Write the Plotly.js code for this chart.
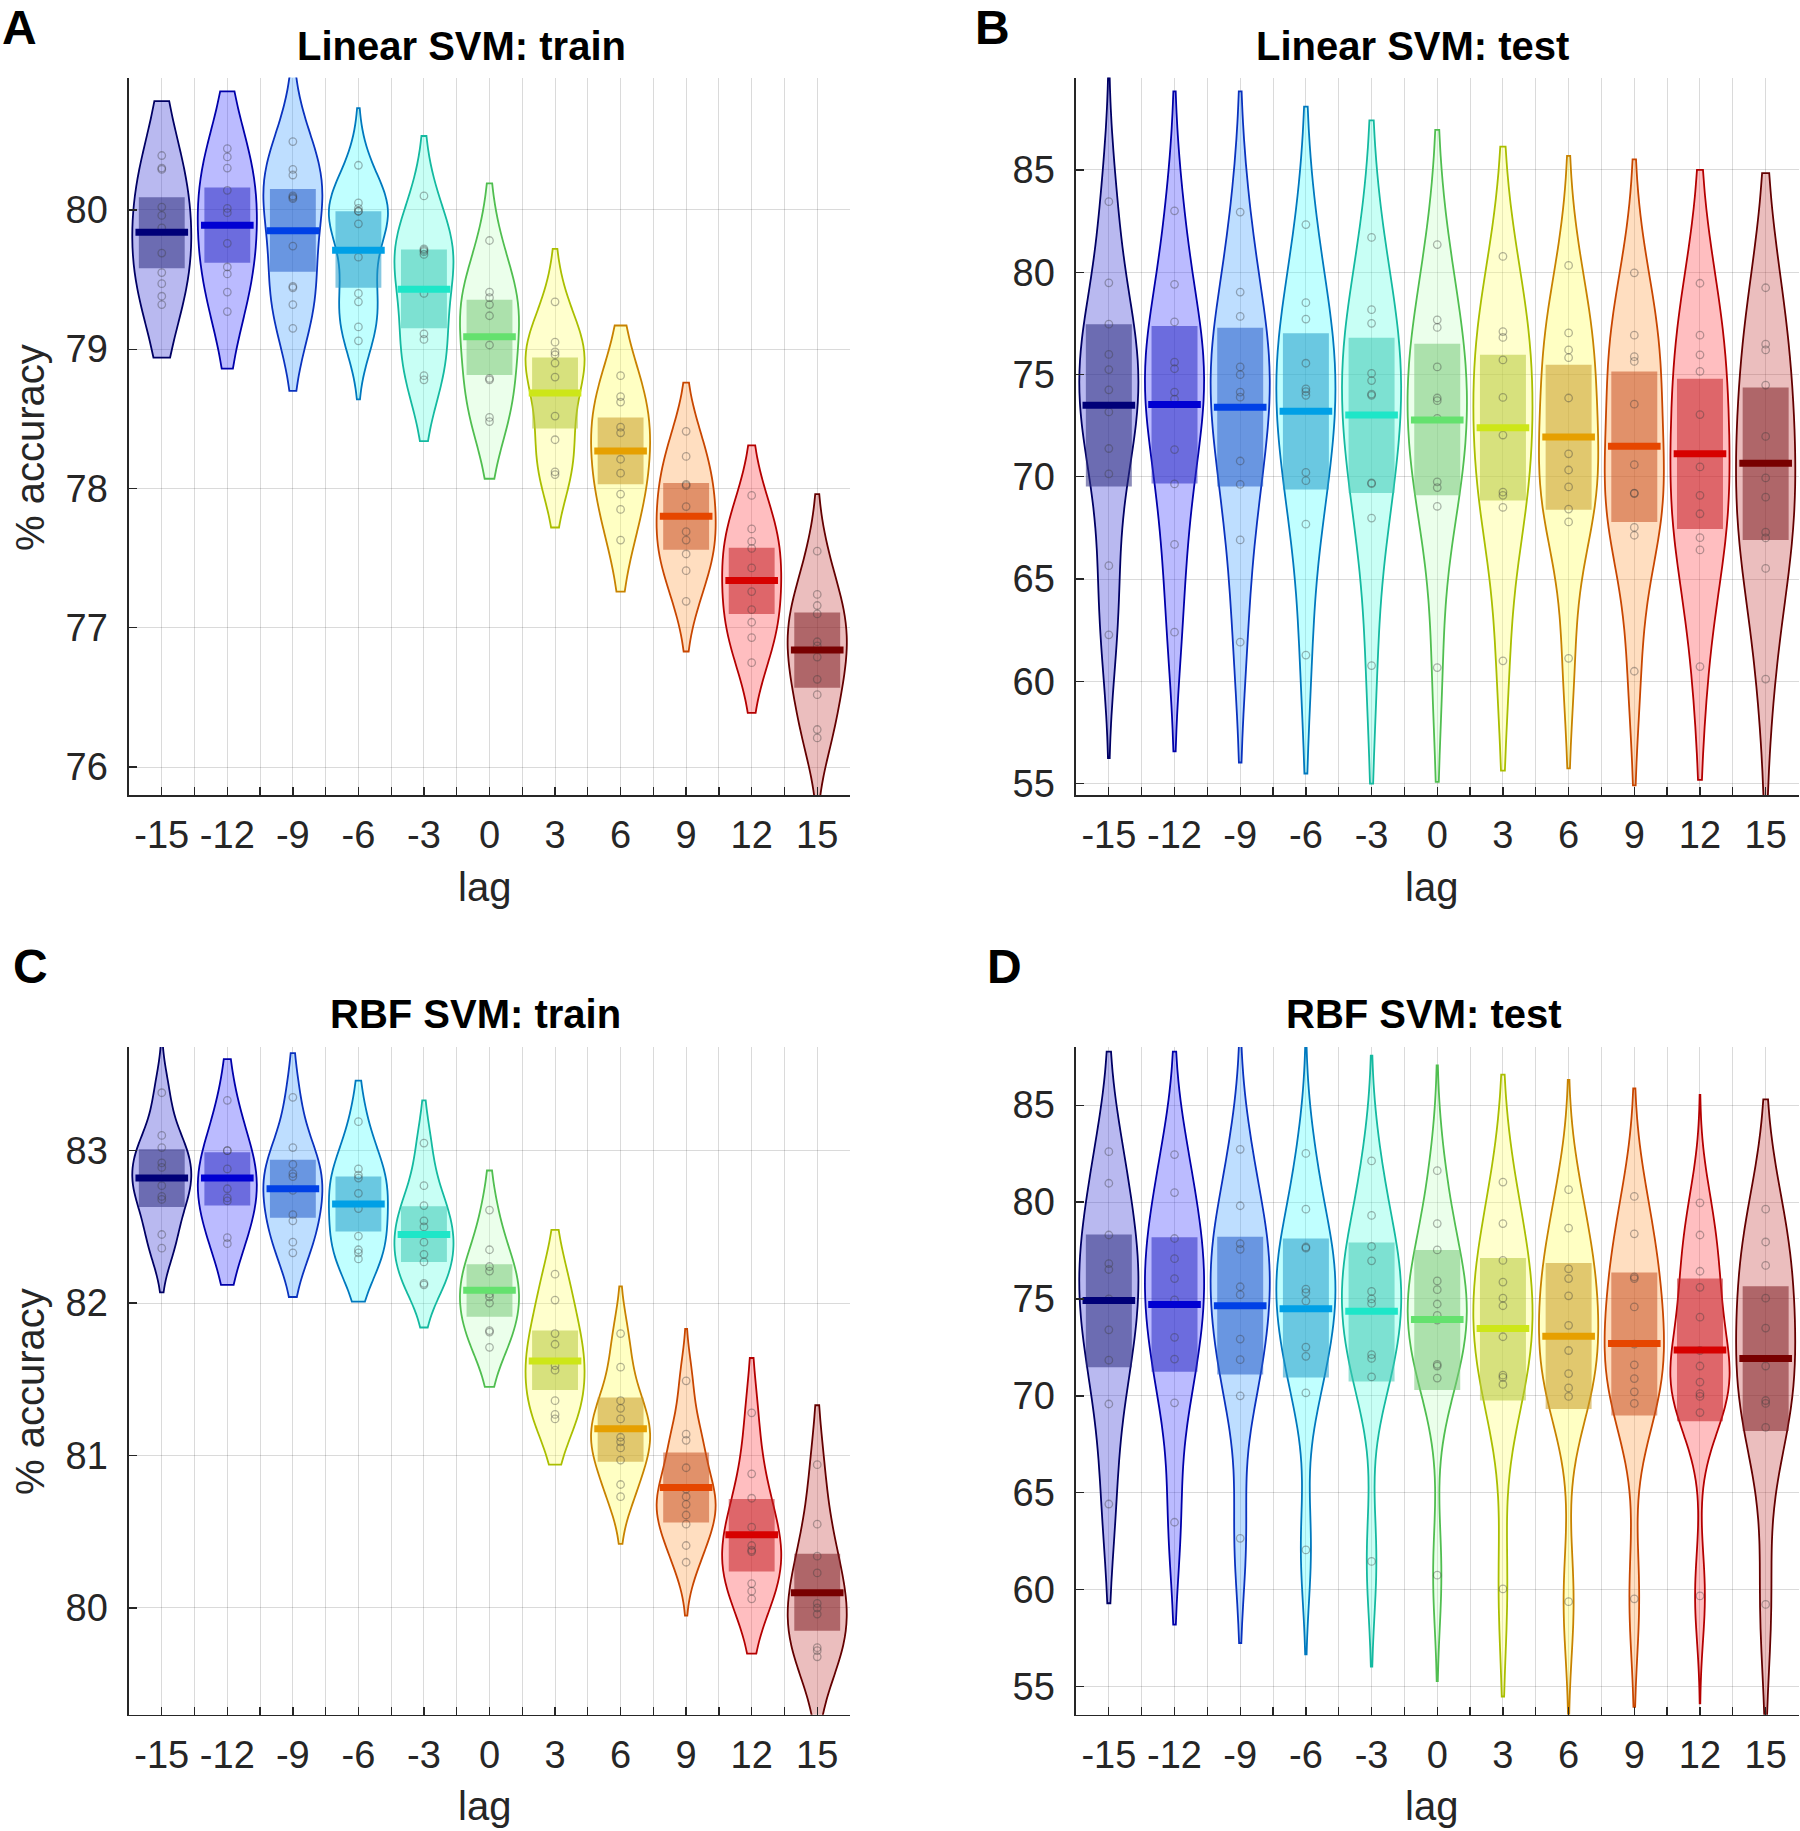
<!DOCTYPE html>
<html>
<head>
<meta charset="utf-8">
<script src="https://cdn.plot.ly/plotly-3.0.1.min.js"></script>
<style>
html,body{margin:0;padding:0;background:#ffffff;}
#chart{width:1800px;height:1831px;}
</style>
</head>
<body>
<div id="chart"></div>
<script>
// ---------------- DATA ----------------
const lags = [-15, -12, -9, -6, -3, 0, 3, 6, 9, 12, 15];
const tickLabels = ['-15', '-12', '-9', '-6', '-3', '0', '3', '6', '9', '12', '15'];

// Panel A: Linear SVM, train (% accuracy per subject, one list per lag)
const linTrainPts = [
  [80.39, 80.30, 80.29, 80.02, 79.96, 79.87, 79.69, 79.55, 79.47, 79.38, 79.32],
  [80.44, 80.38, 80.30, 80.14, 80.01, 79.98, 79.76, 79.59, 79.54, 79.41, 79.27],
  [80.49, 80.29, 80.25, 80.10, 80.09, 80.08, 79.74, 79.45, 79.44, 79.32, 79.15],
  [80.32, 80.05, 80.01, 79.99, 79.99, 79.90, 79.66, 79.40, 79.34, 79.16, 79.06],
  [80.10, 79.72, 79.71, 79.70, 79.68, 79.40, 79.11, 79.07, 78.81, 78.78],
  [79.78, 79.41, 79.37, 79.32, 79.24, 79.03, 78.79, 78.78, 78.51, 78.48],
  [79.34, 79.05, 78.98, 78.96, 78.90, 78.80, 78.52, 78.35, 78.12, 78.10],
  [78.81, 78.66, 78.62, 78.44, 78.40, 78.21, 78.11, 77.96, 77.85, 77.63],
  [78.41, 78.23, 78.03, 78.02, 77.87, 77.69, 77.63, 77.53, 77.41, 77.19],
  [77.95, 77.71, 77.62, 77.57, 77.43, 77.26, 77.13, 77.04, 76.93, 76.75],
  [77.55, 77.24, 77.16, 77.10, 76.90, 76.87, 76.79, 76.63, 76.52, 76.27, 76.21]
];
const linTrainMean = [79.84, 79.89, 79.85, 79.71, 79.43, 79.09, 78.685, 78.27, 77.80, 77.34, 76.84];
const linTrainLo   = [79.58, 79.62, 79.555, 79.44, 79.15, 78.815, 78.43, 78.03, 77.56, 77.10, 76.57];
const linTrainHi   = [80.09, 80.16, 80.15, 79.99, 79.715, 79.355, 78.94, 78.51, 78.04, 77.575, 77.11];
const linTrainSpanLo = [78.94, 78.86, 78.70, 78.64, 78.34, 78.07, 77.72, 77.26, 76.83, 76.39, 75.65];
const linTrainSpanHi = [80.78, 80.85, 80.97, 80.73, 80.53, 80.19, 79.72, 79.17, 78.76, 78.31, 77.96];

// Panel B: Linear SVM, test
const linTestPts = [
  [83.45, 79.48, 77.46, 75.98, 75.24, 74.25, 73.17, 71.38, 70.14, 65.65, 62.27],
  [83.00, 79.41, 77.57, 75.60, 75.28, 74.14, 73.80, 71.33, 69.65, 66.69, 62.40],
  [82.94, 79.03, 77.84, 75.37, 74.99, 74.14, 73.89, 70.77, 69.63, 66.91, 61.91],
  [82.33, 78.51, 77.71, 75.55, 74.30, 74.16, 73.98, 70.21, 69.81, 67.68, 61.28],
  [81.70, 78.17, 77.50, 75.05, 74.70, 74.04, 73.98, 69.70, 69.66, 67.98, 60.77],
  [81.35, 77.67, 77.30, 75.37, 73.85, 73.72, 72.85, 69.75, 69.47, 68.55, 60.67],
  [80.77, 77.10, 76.81, 75.71, 73.88, 72.04, 69.25, 69.09, 68.50, 61.00],
  [80.33, 77.03, 76.20, 75.82, 73.85, 71.12, 70.33, 69.50, 68.42, 67.79, 61.12],
  [79.97, 76.92, 75.87, 75.64, 73.55, 70.59, 69.20, 69.18, 67.52, 67.14, 60.49],
  [79.46, 76.92, 75.96, 75.15, 73.04, 70.48, 69.09, 68.19, 67.02, 66.42, 60.72],
  [79.24, 76.48, 76.20, 74.48, 71.97, 69.94, 69.00, 67.29, 67.01, 65.52, 60.11]
];
const linTestMean = [73.49, 73.53, 73.40, 73.20, 73.02, 72.77, 72.39, 71.94, 71.49, 71.13, 70.66];
const linTestLo   = [69.52, 69.67, 69.52, 69.38, 69.20, 69.09, 68.84, 68.39, 67.79, 67.45, 66.91];
const linTestHi   = [77.46, 77.37, 77.28, 77.01, 76.79, 76.50, 75.96, 75.48, 75.15, 74.79, 74.36];
const linTestSpanLo = [56.25, 56.57, 56.03, 55.49, 55.00, 55.08, 55.63, 55.74, 54.91, 55.18, 54.20];
const linTestSpanHi = [90.00, 88.84, 88.84, 88.10, 87.42, 86.96, 86.14, 85.69, 85.52, 85.00, 84.84];

// Panel C: RBF SVM, train
const rbfTrainPts = [
  [83.38, 83.10, 83.02, 82.92, 82.89, 82.77, 82.70, 82.68, 82.45, 82.36],
  [83.33, 83.00, 83.00, 82.88, 82.75, 82.69, 82.67, 82.43, 82.39],
  [83.35, 83.02, 82.91, 82.85, 82.83, 82.74, 82.58, 82.54, 82.40, 82.33],
  [83.19, 82.88, 82.84, 82.82, 82.72, 82.62, 82.44, 82.35, 82.33, 82.29],
  [83.05, 82.77, 82.64, 82.54, 82.50, 82.40, 82.32, 82.27, 82.13, 82.12],
  [82.61, 82.35, 82.24, 82.21, 82.06, 82.04, 82.00, 81.82, 81.81, 81.71],
  [82.19, 82.02, 81.80, 81.73, 81.59, 81.56, 81.36, 81.27, 81.24],
  [81.80, 81.58, 81.36, 81.31, 81.24, 81.12, 81.09, 81.05, 80.97, 80.81, 80.73],
  [81.49, 81.14, 81.10, 80.92, 80.78, 80.73, 80.68, 80.61, 80.55, 80.41, 80.30],
  [81.28, 80.88, 80.72, 80.53, 80.41, 80.38, 80.37, 80.16, 80.11, 80.06],
  [80.94, 80.55, 80.34, 80.23, 80.03, 80.00, 79.96, 79.74, 79.72, 79.68]
];
const rbfTrainMean = [82.82, 82.82, 82.75, 82.65, 82.45, 82.085, 81.62, 81.175, 80.79, 80.48, 80.10];
const rbfTrainLo   = [82.63, 82.64, 82.56, 82.47, 82.27, 81.91, 81.43, 80.96, 80.56, 80.24, 79.85];
const rbfTrainHi   = [83.01, 82.99, 82.94, 82.83, 82.635, 82.255, 81.82, 81.38, 81.02, 80.715, 80.355];
const rbfTrainSpanLo = [82.07, 82.12, 82.04, 82.01, 81.84, 81.45, 80.94, 80.42, 79.95, 79.70, 79.20];
const rbfTrainSpanHi = [83.70, 83.60, 83.64, 83.46, 83.33, 82.87, 82.48, 82.11, 81.83, 81.64, 81.33];

// Panel D: RBF SVM, test
const rbfTestPts = [
  [82.60, 80.97, 78.30, 76.82, 76.52, 75.00, 73.41, 71.84, 69.58, 64.42],
  [82.45, 80.49, 78.12, 77.08, 76.05, 74.95, 73.02, 71.90, 69.64, 63.48],
  [82.72, 79.81, 77.86, 77.56, 75.63, 75.22, 72.93, 71.87, 70.00, 62.65],
  [82.51, 79.63, 77.68, 77.62, 75.51, 75.33, 74.89, 72.52, 72.04, 70.15, 62.05],
  [82.12, 79.31, 77.71, 76.97, 75.39, 75.00, 74.77, 72.13, 71.93, 70.98, 61.46],
  [81.62, 78.89, 77.53, 75.93, 75.48, 74.74, 74.15, 73.91, 71.63, 71.54, 70.92, 60.75],
  [81.03, 78.89, 76.99, 75.87, 75.04, 74.65, 73.05, 71.07, 70.95, 70.59, 60.04],
  [80.64, 78.66, 76.55, 76.05, 75.16, 73.64, 72.34, 71.15, 70.41, 69.97, 59.38],
  [80.29, 78.36, 76.14, 76.05, 74.59, 72.67, 71.60, 70.89, 70.21, 69.61, 59.53],
  [79.96, 78.30, 76.43, 75.60, 74.06, 72.34, 71.54, 70.71, 70.12, 69.97, 69.14, 59.68],
  [79.63, 77.94, 76.73, 75.04, 73.50, 71.54, 69.76, 69.61, 68.37, 59.24]
];
const rbfTestMean = [74.92, 74.71, 74.65, 74.50, 74.36, 73.94, 73.47, 73.08, 72.70, 72.37, 71.93];
const rbfTestLo   = [71.48, 71.24, 71.10, 70.95, 70.74, 70.30, 69.76, 69.32, 68.99, 68.69, 68.19];
const rbfTestHi   = [78.33, 78.18, 78.21, 78.12, 77.91, 77.53, 77.11, 76.85, 76.37, 76.05, 75.66];
const rbfTestSpanLo = [59.30, 58.20, 57.25, 56.66, 56.03, 55.29, 54.49, 53.60, 53.96, 54.14, 53.40];
const rbfTestSpanHi = [87.76, 87.76, 88.10, 88.05, 87.55, 87.05, 86.57, 86.30, 85.86, 85.53, 85.30];

// ---------------- STYLE ----------------
const W = 1800, H = 1831;
const FONT = '"Liberation Sans", Arial, Helvetica, sans-serif';
const INK = '#262626';
const GRID = 'rgba(38,38,38,0.17)';

const outlineRGB = [[0,0,100],[0,0,170],[10,50,190],[0,120,190],[20,185,160],[80,190,80],[170,190,0],[200,130,0],[200,70,0],[180,0,0],[100,0,0]];
const meanRGB    = [[0,0,120],[0,0,210],[0,64,230],[0,160,230],[30,230,200],[100,225,110],[205,230,25],[230,160,0],[230,70,0],[215,0,0],[120,0,0]];
const violinLook = [[185,185,240],[187,187,255],[190,222,255],[192,255,255],[200,255,245],[235,255,235],[255,255,205],[255,255,195],[255,222,192],[255,190,192],[235,190,190]];
const boxLook    = [[108,108,178],[108,108,222],[105,150,225],[105,200,225],[125,225,210],[172,225,172],[215,225,125],[225,200,110],[225,145,105],[222,102,105],[175,102,105]];
const VA = 0.35, BA = 0.55;

const clamp = v => Math.max(0, Math.min(255, Math.round(v)));
const rgb = c => 'rgb(' + c.join(',') + ')';
function rgbaOver(target, under, a) {
  const base = target.map((t, i) => clamp((t - (1 - a) * under[i]) / a));
  return 'rgba(' + base.join(',') + ',' + a + ')';
}
const WHITE = [255,255,255];

// kernel bandwidth as in MATLAB ksdensity (MAD-based normal reference rule)
function median(a) {
  const s = a.slice().sort((p, q) => p - q), m = s.length >> 1;
  return s.length % 2 ? s[m] : (s[m - 1] + s[m]) / 2;
}
function ksBandwidth(a) {
  const med = median(a);
  const mad = median(a.map(v => Math.abs(v - med)));
  return mad / 0.6745 * Math.pow(4 / (3 * a.length), 0.2);
}

const panels = [
  {pts: linTrainPts, mean: linTrainMean, lo: linTrainLo, hi: linTrainHi, sLo: linTrainSpanLo, sHi: linTrainSpanHi, xa: 'x',  ya: 'y'},
  {pts: linTestPts,  mean: linTestMean,  lo: linTestLo,  hi: linTestHi,  sLo: linTestSpanLo,  sHi: linTestSpanHi,  xa: 'x2', ya: 'y2'},
  {pts: rbfTrainPts, mean: rbfTrainMean, lo: rbfTrainLo, hi: rbfTrainHi, sLo: rbfTrainSpanLo, sHi: rbfTrainSpanHi, xa: 'x3', ya: 'y3'},
  {pts: rbfTestPts,  mean: rbfTestMean,  lo: rbfTestLo,  hi: rbfTestHi,  sLo: rbfTestSpanLo,  sHi: rbfTestSpanHi,  xa: 'x4', ya: 'y4'}
];

const traces = [];
// violins
panels.forEach(p => {
  lags.forEach((lag, i) => {
    traces.push({
      type: 'violin', x0: lag, y: p.pts[i], xaxis: p.xa, yaxis: p.ya,
      orientation: 'v', width: 2.7, scalemode: 'width',
      bandwidth: ksBandwidth(p.pts[i]),
      spanmode: 'manual', span: [p.sLo[i], p.sHi[i]],
      points: false, box: {visible: false}, meanline: {visible: false},
      fillcolor: rgbaOver(violinLook[i], WHITE, VA),
      line: {color: rgb(outlineRGB[i]), width: 1.8},
      hoverinfo: 'skip', showlegend: false, name: tickLabels[i]
    });
  });
});
// confidence boxes
panels.forEach(p => {
  lags.forEach((lag, i) => {
    traces.push({
      type: 'box', orientation: 'v', x: [lag], xaxis: p.xa, yaxis: p.ya,
      q1: [p.lo[i]], median: [p.mean[i]], q3: [p.hi[i]],
      lowerfence: [p.lo[i]], upperfence: [p.hi[i]],
      width: 2.1, whiskerwidth: 0, boxpoints: false,
      fillcolor: rgbaOver(boxLook[i], violinLook[i], BA),
      line: {width: 0, color: 'rgba(0,0,0,0)'},
      hoverinfo: 'skip', showlegend: false
    });
  });
});
// individual points
panels.forEach(p => {
  const xs = [], ys = [];
  lags.forEach((lag, i) => p.pts[i].forEach(v => { xs.push(lag); ys.push(v); }));
  traces.push({
    type: 'scatter', mode: 'markers', x: xs, y: ys, xaxis: p.xa, yaxis: p.ya,
    marker: {symbol: 'circle-open', size: 7.5, color: 'rgba(60,60,60,0.38)', line: {width: 1.3}},
    hoverinfo: 'skip', showlegend: false
  });
});
// mean lines
panels.forEach(p => {
  const cols = meanRGB.map(rgb);
  traces.push({
    type: 'scatter', mode: 'markers', x: lags, y: p.mean, xaxis: p.xa, yaxis: p.ya,
    marker: {symbol: 'line-ew', size: 37.6, color: cols, line: {color: cols, width: 7}},
    hoverinfo: 'skip', showlegend: false
  });
});

// ---------------- AXES ----------------
const tickvals = [lags[0] - 1.5], ticktext = [''];
lags.forEach((l, i) => { tickvals.push(l); ticktext.push(tickLabels[i]); tickvals.push(l + 1.5); ticktext.push(''); });

const xDomL = [129 / W, 850 / W], xDomR = [1076 / W, 1798.5 / W];
const yDomT = [1 - 795 / H, 1 - 77.5 / H], yDomB = [1 - 1714.7 / H, 1 - 1047 / H];

function xAxis(dom, anchor) {
  return {
    domain: dom, anchor: anchor, type: 'linear', range: [-16.5, 16.5],
    tickmode: 'array', tickvals: tickvals, ticktext: ticktext,
    ticks: 'inside', ticklen: 8, tickwidth: 1.3, tickcolor: INK,
    showline: true, linecolor: INK, linewidth: 1.6, mirror: false,
    showgrid: true, gridcolor: GRID, gridwidth: 1, zeroline: false,
    tickfont: {family: FONT, size: 38, color: INK}, ticklabelstandoff: 6,
    fixedrange: true
  };
}
function yAxis(dom, anchor, range, dtick) {
  return {
    domain: dom, anchor: anchor, type: 'linear', range: range,
    tick0: 0, dtick: dtick,
    ticks: 'inside', ticklen: 8, tickwidth: 1.3, tickcolor: INK,
    showline: true, linecolor: INK, linewidth: 1.6, mirror: false,
    showgrid: true, gridcolor: GRID, gridwidth: 1, zeroline: false,
    tickfont: {family: FONT, size: 38, color: INK}, ticklabelstandoff: 12,
    fixedrange: true
  };
}

// ---------------- TEXT ----------------
const annotations = [];
function addText(text, xpx, ypx, size, extra) {
  annotations.push(Object.assign({
    text: text, x: xpx / W, y: 1 - ypx / H, xref: 'paper', yref: 'paper',
    showarrow: false, xanchor: 'center', yanchor: 'middle',
    font: {family: FONT, size: size, color: INK}
  }, extra || {}));
}
const black = {font: {family: FONT, size: 40, color: '#000000'}};
addText('<b>Linear SVM: train</b>', 461, 46, 40, black);
addText('<b>Linear SVM: test</b>', 1412, 46, 40, black);
addText('<b>RBF SVM: train</b>', 476, 1014, 40, black);
addText('<b>RBF SVM: test</b>', 1424, 1014, 40, black);
const letterFont = {family: FONT, size: 48, color: '#000000'};
addText('<b>A</b>', 0, 27, 48, {xanchor: 'left', font: letterFont});
addText('<b>B</b>', 973, 27, 48, {xanchor: 'left', font: letterFont});
addText('<b>C</b>', 11, 966, 48, {xanchor: 'left', font: letterFont});
addText('<b>D</b>', 985, 966, 48, {xanchor: 'left', font: letterFont});
addText('% accuracy', 30, 448, 40, {textangle: -90});
addText('% accuracy', 30, 1392, 40, {textangle: -90});
addText('lag', 484, 887, 40);
addText('lag', 1431, 887, 40);
addText('lag', 484, 1806, 40);
addText('lag', 1431, 1806, 40);

const layout = {
  width: W, height: H,
  margin: {l: 0, r: 0, t: 0, b: 0, pad: 0},
  paper_bgcolor: '#ffffff', plot_bgcolor: 'rgba(0,0,0,0)',
  showlegend: false, violinmode: 'overlay', boxmode: 'overlay',
  font: {family: FONT, color: INK},
  xaxis:  xAxis(xDomL, 'y'),  yaxis:  yAxis(yDomT, 'x',  [75.80, 80.95], 1),
  xaxis2: xAxis(xDomR, 'y2'), yaxis2: yAxis(yDomT, 'x2', [54.44, 89.52], 5),
  xaxis3: xAxis(xDomL, 'y3'), yaxis3: yAxis(yDomB, 'x3', [79.30, 83.68], 1),
  xaxis4: xAxis(xDomR, 'y4'), yaxis4: yAxis(yDomB, 'x4', [53.55, 88.0], 5),
  annotations: annotations
};

Plotly.newPlot('chart', traces, layout, {staticPlot: true, displayModeBar: false});
</script>
</body>
</html>
